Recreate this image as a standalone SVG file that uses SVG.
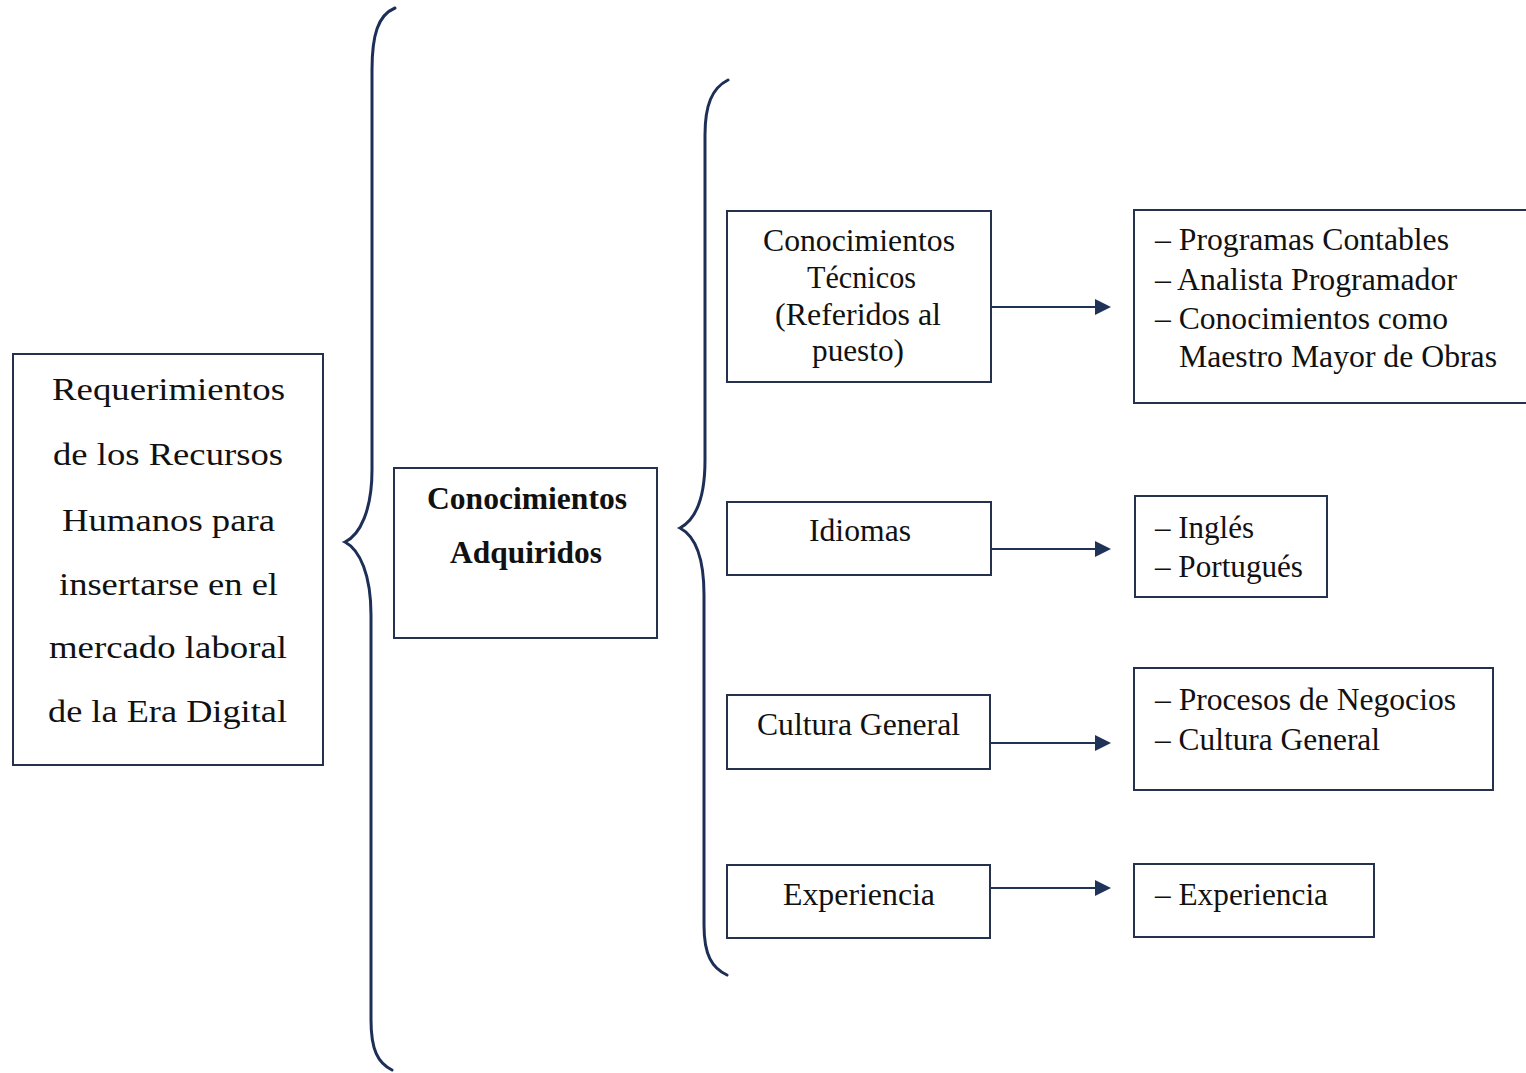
<svg xmlns="http://www.w3.org/2000/svg" width="1526" height="1073" viewBox="0 0 1526 1073">
<defs>
<style>
.box{fill:#ffffff;stroke:#26324d;stroke-width:2}
.brace{fill:none;stroke:#1d2f57;stroke-width:3;stroke-linecap:round}
.conn{stroke:#1f3358;stroke-width:2;fill:none}
.head{fill:#1f3358}
.t{font-family:"Liberation Serif","Times New Roman",serif;font-size:32px;fill:#111111}
.tb{font-family:"Liberation Serif","Times New Roman",serif;font-size:31px;font-weight:bold;fill:#111111}
</style>
</defs>
<rect width="1526" height="1073" fill="#ffffff"/>

<g id="braces">
<path class="brace" d="M395,8 C378,15 372,35 372,70 L372,470 C372,510 360,535 345,542 C360,550 371,575 371,615 L371,1020 C371,1050 378,1063 392,1070"/>
<path class="brace" d="M728,80 C712,88 705,105 705,135 L705,460 C705,500 695,520 680,528 C695,536 704,556 704,595 L704,925 C704,955 712,968 727,975"/>
</g>

<g id="node-requerimientos">
<rect class="box" x="13" y="354" width="310" height="411"/>
<text class="t" x="52" y="400" textLength="233" lengthAdjust="spacingAndGlyphs">Requerimientos</text>
<text class="t" x="53" y="465" textLength="230" lengthAdjust="spacingAndGlyphs">de los Recursos</text>
<text class="t" x="62" y="531" textLength="213" lengthAdjust="spacingAndGlyphs">Humanos para</text>
<text class="t" x="59" y="595" textLength="219" lengthAdjust="spacingAndGlyphs">insertarse en el</text>
<text class="t" x="49" y="658" textLength="238" lengthAdjust="spacingAndGlyphs">mercado laboral</text>
<text class="t" x="48" y="722" textLength="239" lengthAdjust="spacingAndGlyphs">de la Era Digital</text>
</g>

<g id="node-conocimientos-adquiridos">
<rect class="box" x="394" y="468" width="263" height="170"/>
<text class="tb" x="427" y="509" textLength="200" lengthAdjust="spacingAndGlyphs">Conocimientos</text>
<text class="tb" x="450" y="563" textLength="152" lengthAdjust="spacingAndGlyphs">Adquiridos</text>
</g>

<g id="node-tecnicos">
<rect class="box" x="727" y="211" width="264" height="171"/>
<text class="t" x="763" y="251" textLength="192" lengthAdjust="spacingAndGlyphs">Conocimientos</text>
<text class="t" x="807" y="288" textLength="109" lengthAdjust="spacingAndGlyphs">Técnicos</text>
<text class="t" x="775" y="325" textLength="166" lengthAdjust="spacingAndGlyphs">(Referidos al</text>
<text class="t" x="812" y="361" textLength="92" lengthAdjust="spacingAndGlyphs">puesto)</text>
</g>

<g id="node-idiomas">
<rect class="box" x="727" y="502" width="264" height="73"/>
<text class="t" x="809" y="541" textLength="102" lengthAdjust="spacingAndGlyphs">Idiomas</text>
</g>

<g id="node-cultura">
<rect class="box" x="727" y="695" width="263" height="74"/>
<text class="t" x="757" y="735" textLength="203" lengthAdjust="spacingAndGlyphs">Cultura General</text>
</g>

<g id="node-experiencia">
<rect class="box" x="727" y="865" width="263" height="73"/>
<text class="t" x="783" y="905" textLength="152" lengthAdjust="spacingAndGlyphs">Experiencia</text>
</g>

<g id="node-res-tecnicos">
<rect class="box" x="1134" y="210" width="400" height="193"/>
<text class="t" x="1155" y="250" textLength="294" lengthAdjust="spacingAndGlyphs">– Programas Contables</text>
<text class="t" x="1155" y="290" textLength="302" lengthAdjust="spacingAndGlyphs">– Analista Programador</text>
<text class="t" x="1155" y="329" textLength="293" lengthAdjust="spacingAndGlyphs">– Conocimientos como</text>
<text class="t" x="1179" y="367" textLength="318" lengthAdjust="spacingAndGlyphs">Maestro Mayor de Obras</text>
</g>

<g id="node-res-idiomas">
<rect class="box" x="1135" y="496" width="192" height="101"/>
<text class="t" x="1155" y="538" textLength="99" lengthAdjust="spacingAndGlyphs">– Inglés</text>
<text class="t" x="1155" y="577" textLength="148" lengthAdjust="spacingAndGlyphs">– Portugués</text>
</g>

<g id="node-res-cultura">
<rect class="box" x="1134" y="668" width="359" height="122"/>
<text class="t" x="1155" y="710" textLength="301" lengthAdjust="spacingAndGlyphs">– Procesos de Negocios</text>
<text class="t" x="1155" y="750" textLength="225" lengthAdjust="spacingAndGlyphs">– Cultura General</text>
</g>

<g id="node-res-experiencia">
<rect class="box" x="1134" y="864" width="240" height="73"/>
<text class="t" x="1155" y="905" textLength="173" lengthAdjust="spacingAndGlyphs">– Experiencia</text>
</g>

<g id="connectors">
<line class="conn" x1="991" y1="307" x2="1097" y2="307"/>
<polygon class="head" points="1095,299 1111,307 1095,315"/>
<line class="conn" x1="991" y1="549" x2="1097" y2="549"/>
<polygon class="head" points="1095,541 1111,549 1095,557"/>
<line class="conn" x1="990" y1="743" x2="1097" y2="743"/>
<polygon class="head" points="1095,735 1111,743 1095,751"/>
<line class="conn" x1="990" y1="888" x2="1097" y2="888"/>
<polygon class="head" points="1095,880 1111,888 1095,896"/>
</g>
</svg>
